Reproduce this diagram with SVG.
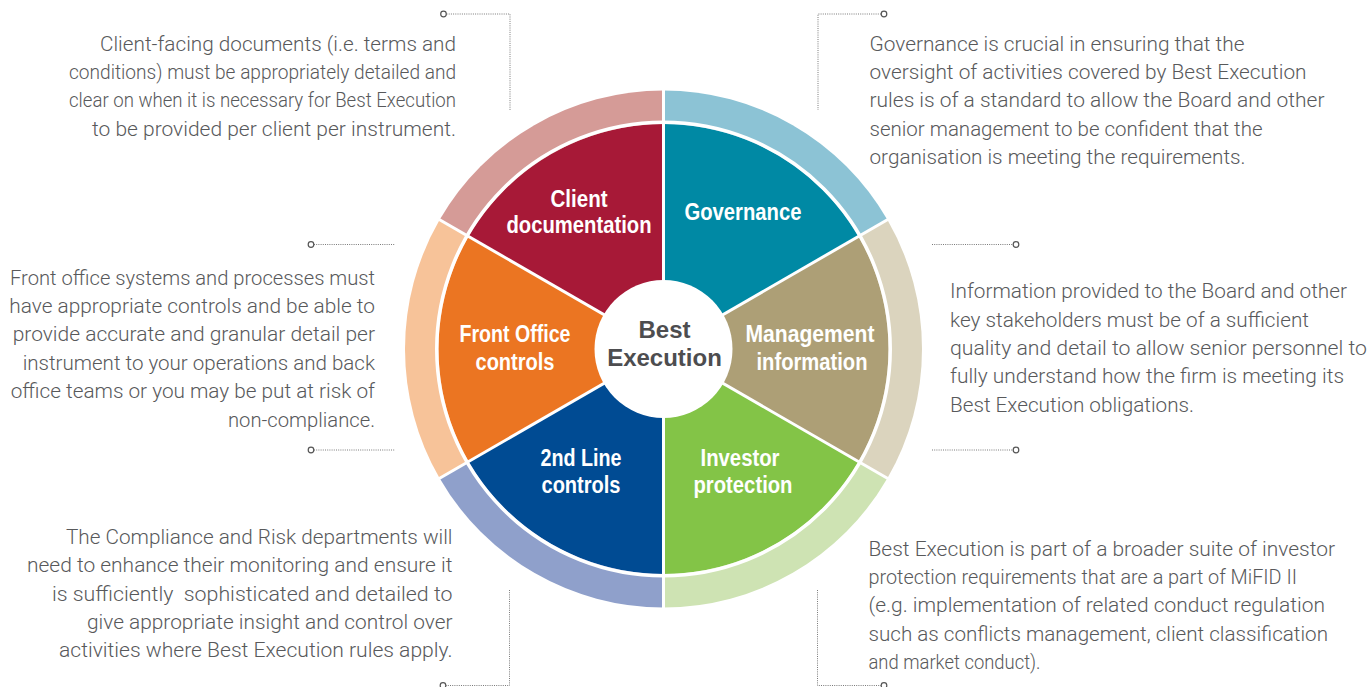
<svg xmlns="http://www.w3.org/2000/svg" width="1371" height="687" viewBox="0 0 1371 687">
<style>
.body{font-family:Roboto,"Liberation Sans",sans-serif;font-weight:300;font-size:20.5px;fill:#58595B}
.lbl{font-family:"Liberation Sans",Arial,sans-serif;font-weight:bold;font-size:23px;fill:#FFFFFF;text-anchor:middle}
.ctr{font-family:"Liberation Sans",Arial,sans-serif;font-weight:bold;font-size:24px;fill:#4D4D4F;text-anchor:middle}
.dot{stroke:#7A7A7A;stroke-width:1;stroke-dasharray:1 1.2;fill:none}
.end{stroke:#555;stroke-width:1.2;fill:#fff}
.sep{stroke:#fff;stroke-width:3;fill:none}
</style>
<rect width="1371" height="687" fill="#fff"/>

<g id="node-governance">
<path d="M663.5,349 L663.5,90.5 A258.5,258.5 0 0 1 887.37,219.75 Z" fill="#8CC3D5"/>
<path d="M663.5,349 L663.5,124 A225,225 0 0 1 858.36,236.5 Z" fill="#0089A4"/>
<text class="lbl" x="743" y="220" textLength="117" lengthAdjust="spacingAndGlyphs">Governance</text>
</g>
<g id="node-management-information">
<path d="M663.5,349 L887.37,219.75 A258.5,258.5 0 0 1 887.37,478.25 Z" fill="#DBD4BE"/>
<path d="M663.5,349 L858.36,236.5 A225,225 0 0 1 858.36,461.5 Z" fill="#AD9F76"/>
<text class="lbl" x="810" y="342" textLength="129" lengthAdjust="spacingAndGlyphs">Management</text>
<text class="lbl" x="812" y="370" textLength="111" lengthAdjust="spacingAndGlyphs">information</text>
</g>
<g id="node-investor-protection">
<path d="M663.5,349 L887.37,478.25 A258.5,258.5 0 0 1 663.5,607.5 Z" fill="#CEE3B3"/>
<path d="M663.5,349 L858.36,461.5 A225,225 0 0 1 663.5,574 Z" fill="#83C447"/>
<text class="lbl" x="740" y="466" textLength="79" lengthAdjust="spacingAndGlyphs">Investor</text>
<text class="lbl" x="743" y="493" textLength="99" lengthAdjust="spacingAndGlyphs">protection</text>
</g>
<g id="node-2nd-line-controls">
<path d="M663.5,349 L663.5,607.5 A258.5,258.5 0 0 1 439.63,478.25 Z" fill="#8FA0CB"/>
<path d="M663.5,349 L663.5,574 A225,225 0 0 1 468.64,461.5 Z" fill="#004B93"/>
<text class="lbl" x="581" y="466" textLength="81" lengthAdjust="spacingAndGlyphs">2nd Line</text>
<text class="lbl" x="581" y="493" textLength="79" lengthAdjust="spacingAndGlyphs">controls</text>
</g>
<g id="node-front-office-controls">
<path d="M663.5,349 L439.63,478.25 A258.5,258.5 0 0 1 439.63,219.75 Z" fill="#F7C399"/>
<path d="M663.5,349 L468.64,461.5 A225,225 0 0 1 468.64,236.5 Z" fill="#EB7522"/>
<text class="lbl" x="515" y="342" textLength="111" lengthAdjust="spacingAndGlyphs">Front Office</text>
<text class="lbl" x="515" y="370" textLength="79" lengthAdjust="spacingAndGlyphs">controls</text>
</g>
<g id="node-client-documentation">
<path d="M663.5,349 L439.63,219.75 A258.5,258.5 0 0 1 663.5,90.5 Z" fill="#D59B97"/>
<path d="M663.5,349 L468.64,236.5 A225,225 0 0 1 663.5,124 Z" fill="#A71937"/>
<text class="lbl" x="579" y="207" textLength="57" lengthAdjust="spacingAndGlyphs">Client</text>
<text class="lbl" x="579" y="233" textLength="145" lengthAdjust="spacingAndGlyphs">documentation</text>
</g>

<g id="separators">
<circle cx="663.5" cy="349" r="226.75" fill="none" stroke="#fff" stroke-width="3.5"/>
<line class="sep" x1="663.5" y1="89" x2="663.5" y2="609"/>
<line class="sep" x1="888.67" y1="219" x2="438.33" y2="479"/>
<line class="sep" x1="888.67" y1="479" x2="438.33" y2="219"/>
</g>

<g id="node-best-execution">
<circle cx="663.5" cy="349" r="69" fill="#fff"/>
<text class="ctr" x="664.5" y="338">Best</text>
<text class="ctr" x="664.5" y="366">Execution</text>
</g>

<g id="text-client-documentation">
<text class="body" x="100" y="50.5" textLength="356" lengthAdjust="spacingAndGlyphs">Client-facing documents (i.e. terms and</text>
<text class="body" x="69" y="78.8" textLength="387" lengthAdjust="spacingAndGlyphs">conditions) must be appropriately detailed and</text>
<text class="body" x="69" y="107.2" textLength="387" lengthAdjust="spacingAndGlyphs">clear on when it is necessary for Best Execution</text>
<text class="body" x="92" y="135.5" textLength="364" lengthAdjust="spacingAndGlyphs">to be provided per client per instrument.</text>
</g>
<g id="text-governance">
<text class="body" x="869.5" y="50.5" textLength="375" lengthAdjust="spacingAndGlyphs">Governance is crucial in ensuring that the</text>
<text class="body" x="869.5" y="78.9" textLength="437" lengthAdjust="spacingAndGlyphs">oversight of activities covered by Best Execution</text>
<text class="body" x="869.5" y="107.3" textLength="455" lengthAdjust="spacingAndGlyphs">rules is of a standard to allow the Board and other</text>
<text class="body" x="869.5" y="135.7" textLength="393" lengthAdjust="spacingAndGlyphs">senior management to be confident that the</text>
<text class="body" x="869.5" y="164.1" textLength="376" lengthAdjust="spacingAndGlyphs">organisation is meeting the requirements.</text>
</g>
<g id="text-front-office">
<text class="body" x="10" y="284.7" textLength="365" lengthAdjust="spacingAndGlyphs">Front office systems and processes must</text>
<text class="body" x="9.3" y="313" textLength="365.7" lengthAdjust="spacingAndGlyphs">have appropriate controls and be able to</text>
<text class="body" x="12.7" y="341.4" textLength="362.3" lengthAdjust="spacingAndGlyphs">provide accurate and granular detail per</text>
<text class="body" x="22.7" y="369.8" textLength="352.3" lengthAdjust="spacingAndGlyphs">instrument to your operations and back</text>
<text class="body" x="10.7" y="398.2" textLength="364.3" lengthAdjust="spacingAndGlyphs">office teams or you may be put at risk of</text>
<text class="body" x="228" y="426.6" textLength="147" lengthAdjust="spacingAndGlyphs">non-compliance.</text>
</g>
<g id="text-management-information">
<text class="body" x="950" y="298.3" textLength="397" lengthAdjust="spacingAndGlyphs">Information provided to the Board and other</text>
<text class="body" x="950" y="326.7" textLength="359" lengthAdjust="spacingAndGlyphs">key stakeholders must be of a sufficient</text>
<text class="body" x="950" y="355" textLength="417" lengthAdjust="spacingAndGlyphs">quality and detail to allow senior personnel to</text>
<text class="body" x="950" y="383.3" textLength="394" lengthAdjust="spacingAndGlyphs">fully understand how the firm is meeting its</text>
<text class="body" x="950" y="411.7" textLength="244" lengthAdjust="spacingAndGlyphs">Best Execution obligations.</text>
</g>
<g id="text-2nd-line">
<text class="body" x="66" y="543.8" textLength="386.5" lengthAdjust="spacingAndGlyphs">The Compliance and Risk departments will</text>
<text class="body" x="27" y="572.2" textLength="425.5" lengthAdjust="spacingAndGlyphs">need to enhance their monitoring and ensure it</text>
<text class="body" x="52" y="600.5" textLength="400.5" lengthAdjust="spacingAndGlyphs" xml:space="preserve">is sufficiently  sophisticated and detailed to</text>
<text class="body" x="87" y="628.8" textLength="365.5" lengthAdjust="spacingAndGlyphs">give appropriate insight and control over</text>
<text class="body" x="59" y="657.2" textLength="393.5" lengthAdjust="spacingAndGlyphs">activities where Best Execution rules apply.</text>
</g>
<g id="text-investor-protection">
<text class="body" x="868.5" y="555.5" textLength="466.5" lengthAdjust="spacingAndGlyphs">Best Execution is part of a broader suite of investor</text>
<text class="body" x="868.5" y="583.9" textLength="428.5" lengthAdjust="spacingAndGlyphs">protection requirements that are a part of MiFID II</text>
<text class="body" x="868.5" y="612.3" textLength="456.5" lengthAdjust="spacingAndGlyphs">(e.g. implementation of related conduct regulation</text>
<text class="body" x="868.5" y="640.7" textLength="459.5" lengthAdjust="spacingAndGlyphs">such as conflicts management, client classification</text>
<text class="body" x="868.5" y="669.1" textLength="172" lengthAdjust="spacingAndGlyphs">and market conduct).</text>
</g>

<g id="connectors">
<path class="dot" d="M446.5,14 H510 V110"/>
<circle class="end" cx="443.5" cy="14" r="2.8"/>
<path class="dot" d="M881,14 H818 V110"/>
<circle class="end" cx="884" cy="14" r="2.8"/>
<path class="dot" d="M314,244.5 H395"/>
<circle class="end" cx="311" cy="244.5" r="2.8"/>
<path class="dot" d="M314,450 H395"/>
<circle class="end" cx="311" cy="450" r="2.8"/>
<path class="dot" d="M932,244.5 H1013"/>
<circle class="end" cx="1016" cy="244.5" r="2.8"/>
<path class="dot" d="M932,450 H1013"/>
<circle class="end" cx="1016" cy="450" r="2.8"/>
<path class="dot" d="M509.5,590 V685.5 H446"/>
<circle class="end" cx="443" cy="685.5" r="2.8"/>
<path class="dot" d="M817.5,590 V685.5 H881"/>
<circle class="end" cx="884" cy="685.5" r="2.8"/>
</g>
</svg>
